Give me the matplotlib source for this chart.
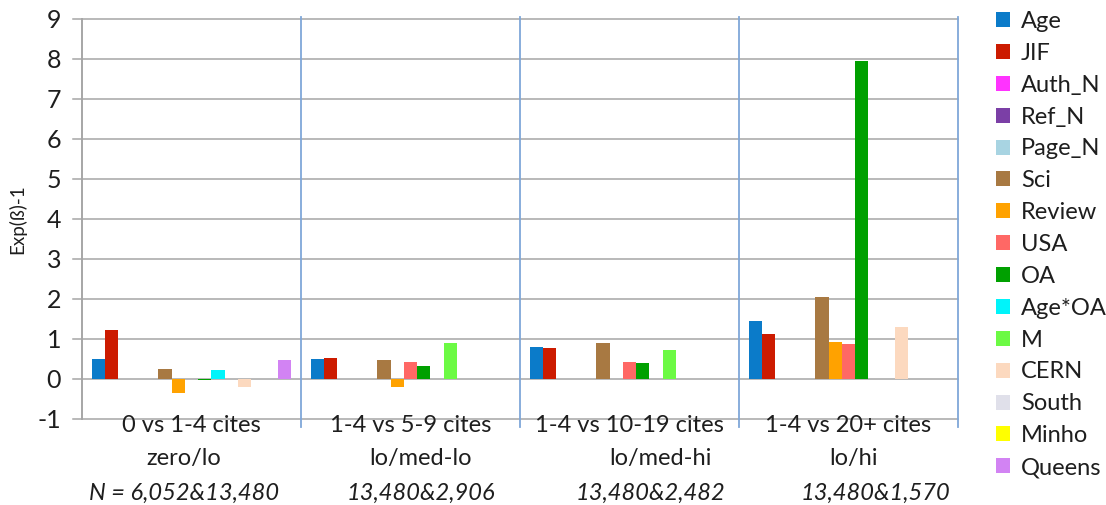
import numpy as np
import matplotlib.pyplot as plt
from matplotlib.patches import Patch

# comparisons (x categories)
groups = ['0 vs 1-4 cites', '1-4 vs 5-9 cites', '1-4 vs 10-19 cites', '1-4 vs 20+ cites']
levels = ['zero/lo', 'lo/med-lo', 'lo/med-hi', 'lo/hi']
sizes = ['N = 6,052&13,480', '13,480&2,906', '13,480&2,482', '13,480&1,570']

# series, Exp(B)-1
names = ['Age', 'JIF', 'Auth_N', 'Ref_N', 'Page_N', 'Sci', 'Review', 'USA',
         'OA', 'Age*OA', 'M', 'CERN', 'South', 'Minho', 'Queens']
age = [0.49, 0.49, 0.79, 1.44]
jif = [1.22, 0.52, 0.78, 1.12]
auth_n = [0.01, 0.01, 0.01, 0.01]
ref_n = [0.0, 0.0, 0.01, 0.01]
page_n = [0.0, 0.0, 0.0, 0.0]
sci = [0.26, 0.47, 0.89, 2.06]
review = [-0.36, -0.21, 0.0, 0.93]
usa = [0.0, 0.42, 0.42, 0.87]
oa = [-0.03, 0.33, 0.39, 7.96]
age_oa = [0.22, 0.0, 0.0, 0.0]
m = [0.0, 0.89, 0.72, 0.0]
cern = [-0.19, 0.0, 0.0, 1.3]
south = [0.0, 0.0, 0.0, 0.0]
minho = [0.0, 0.0, 0.0, 0.0]
queens = [0.47, 0.0, 0.0, 0.0]
series = [age, jif, auth_n, ref_n, page_n, sci, review, usa, oa, age_oa, m,
          cern, south, minho, queens]

colors = ['#0b7bc9', '#cc1b00', '#ff33ff', '#7b3fa6', '#a8d4e2', '#a87942',
          '#ffa200', '#ff6865', '#00a000', '#00f4fa', '#6cfa44', '#fcd9bf',
          '#e0e0ea', '#ffff00', '#d283f3']

plt.rcParams['font.family'] = ['Lato', 'DejaVu Sans']
plt.rcParams['axes.unicode_minus'] = False

fig = plt.figure(figsize=(11.06, 5.05), dpi=100)
ax = fig.add_axes([82/1106, 1-419/505, (958-82)/1106, 400/505])

grid_c = '#a6a6a6'
sep_c = '#7fa7d9'
txt_c = '#1e1e1e'

# gridlines drawn a bit to the left of the axis like the ticks
for yv in range(-1, 10):
    ax.plot([-0.04, 4], [yv, yv], color=grid_c, lw=1.1, zorder=1, clip_on=False)

x = np.arange(len(groups))
w = 0.0607
start = 0.045
for i, (vals, c) in enumerate(zip(series, colors)):
    ax.bar(x + start + i*w, vals, width=w, align='edge', color=c, zorder=3)

# category separators
for xv in [1, 2, 3, 4]:
    ax.plot([xv, xv], [-1.2, 9.05], color=sep_c, lw=1.3, zorder=2, clip_on=False)

ax.set_xlim(0, 4)
ax.set_ylim(-1, 9)
ax.set_yticks(range(-1, 10))
ax.set_xticks([])
ax.tick_params(axis='y', length=0, pad=15, labelsize=18, labelcolor=txt_c)
for s in ['top', 'right', 'bottom']:
    ax.spines[s].set_visible(False)
ax.spines['left'].set_color(grid_c)
ax.spines['left'].set_linewidth(1.4)
ax.set_ylabel('Exp(ß)-1', fontsize=13.5, labelpad=8, color=txt_c)

# three-line category labels
dx2 = [-8, 10, 31, 5]
dx3 = [-7, 10, 21, 27]
xf = ax.get_xaxis_transform()
for i in range(len(groups)):
    cx = i + 0.5
    ax.annotate(groups[i], xy=(cx, 0), xycoords=xf, xytext=(0, -6),
                textcoords='offset pixels', ha='center', va='center', fontsize=17,
                color=txt_c)
    ax.annotate(levels[i], xy=(cx, 0), xycoords=xf, xytext=(dx2[i], -40),
                textcoords='offset pixels', ha='center', va='center', fontsize=17,
                color=txt_c)
    ax.annotate(sizes[i], xy=(cx, 0), xycoords=xf, xytext=(dx3[i], -74),
                textcoords='offset pixels', ha='center', va='center', fontsize=17,
                style='italic', color=txt_c)

handles = [Patch(facecolor=c, edgecolor='none') for c in colors]
fig.legend(handles, names, loc='upper left', bbox_to_anchor=(996/1106, 1-11/505),
           frameon=False, fontsize=17, handlelength=0.6, handleheight=0.6,
           handletextpad=0.45, labelspacing=0.46, borderpad=0, borderaxespad=0,
           labelcolor=txt_c)

fig.savefig('out.png', dpi=100)
